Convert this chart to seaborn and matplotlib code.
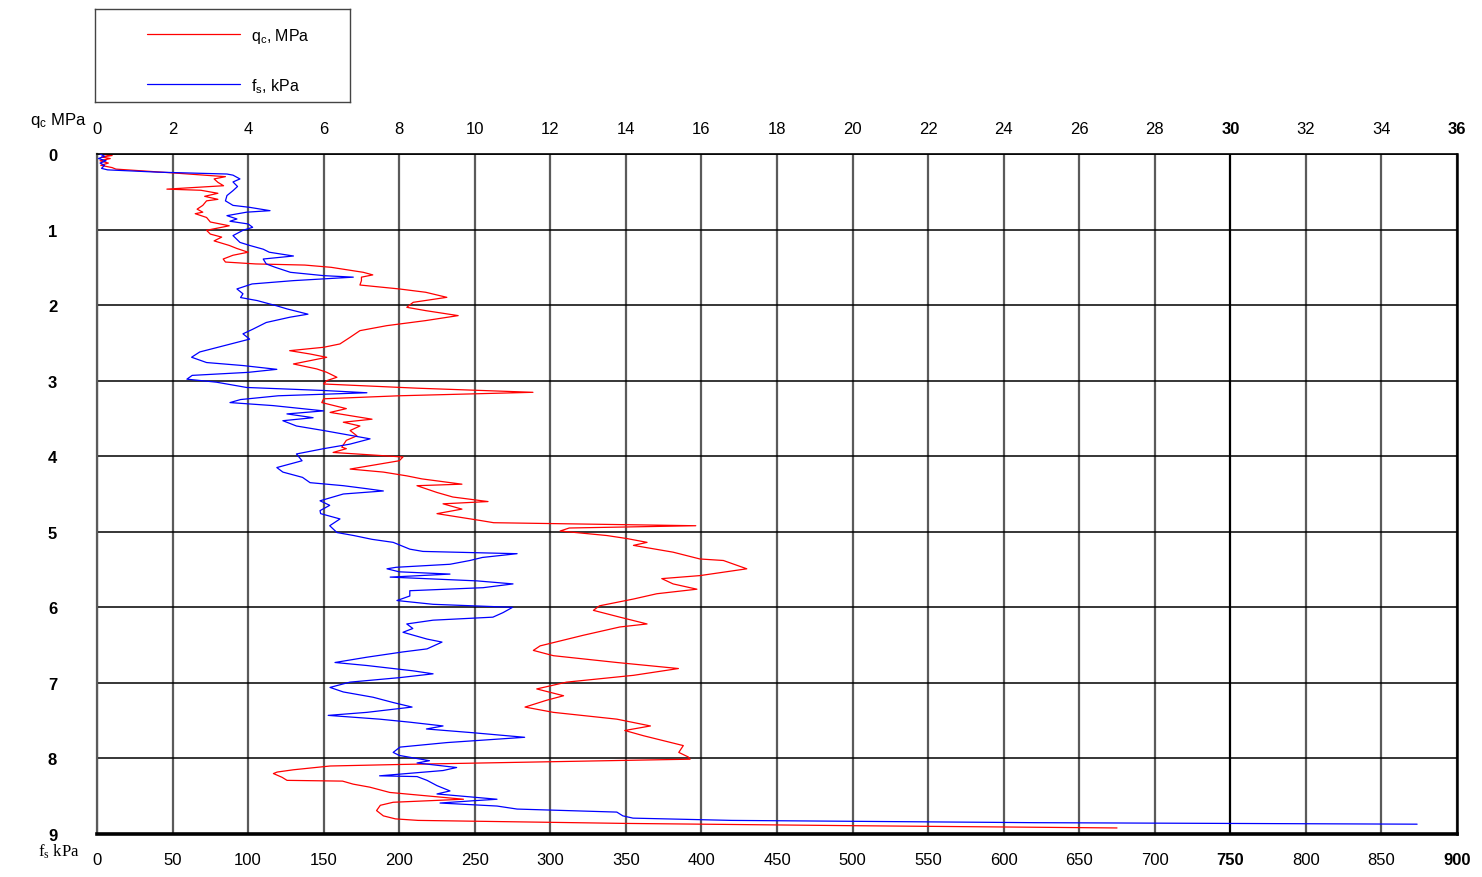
import matplotlib
matplotlib.use("Agg")
import matplotlib.pyplot as plt
import pandas as pd
import seaborn as sns
from matplotlib.lines import Line2D

# cone resistance qc (MPa) vs depth (m)
QC_DEPTH = [
    0.00, 0.02, 0.04, 0.06, 0.09, 0.12, 0.15, 0.18, 0.20, 0.25, 0.30, 0.33, 0.375, 0.42,
    0.465, 0.48, 0.52, 0.56, 0.60, 0.62, 0.68, 0.73, 0.77, 0.79, 0.84, 0.90, 0.95, 1.01,
    1.06, 1.10, 1.15, 1.21, 1.25, 1.30, 1.34, 1.39, 1.43, 1.455, 1.47, 1.50, 1.566, 1.60,
    1.63, 1.676, 1.734, 1.786, 1.83, 1.897, 1.963, 2.029, 2.073, 2.139, 2.205, 2.272, 2.338,
    2.426, 2.514, 2.558, 2.603, 2.647, 2.691, 2.779, 2.845, 2.889, 2.955, 3.00, 3.044, 3.10,
    3.154, 3.20, 3.24, 3.29, 3.37, 3.42, 3.51, 3.55, 3.60, 3.66, 3.73, 3.79, 3.88, 3.90,
    3.95, 4.01, 4.06, 4.12, 4.17, 4.21, 4.26, 4.30, 4.37, 4.39, 4.48, 4.54, 4.60, 4.63,
    4.70, 4.76, 4.85, 4.88, 4.92, 4.95, 4.99, 5.05, 5.09, 5.14, 5.18, 5.27, 5.36, 5.38,
    5.49, 5.58, 5.62, 5.69, 5.76, 5.82, 5.89, 5.98, 6.04, 6.13, 6.22, 6.26, 6.37, 6.51,
    6.57, 6.64, 6.73, 6.81, 6.90, 6.99, 7.08, 7.17, 7.23, 7.32, 7.39, 7.48, 7.57, 7.63,
    7.70, 7.83, 7.92, 7.98, 8.01, 8.08, 8.10, 8.15, 8.18, 8.20, 8.25, 8.29, 8.30, 8.34,
    8.38, 8.45, 8.49, 8.54, 8.58, 8.62, 8.69, 8.76, 8.80, 8.82, 8.86, 8.89, 8.92,
]
QC_MPA = [
    0.10, 0.40, 0.12, 0.35, 0.08, 0.30, 0.10, 0.40, 0.50, 2.00, 3.40, 3.10, 3.20, 3.35,
    1.85, 2.75, 3.20, 2.85, 3.20, 2.90, 2.80, 2.65, 2.80, 2.60, 2.90, 3.00, 3.50, 2.90,
    3.00, 3.30, 3.10, 3.50, 3.70, 4.00, 3.60, 3.34, 3.40, 4.20, 5.50, 6.20, 7.05, 7.30,
    7.00, 7.00, 6.96, 8.00, 8.70, 9.26, 8.37, 8.20, 8.70, 9.56, 8.70, 7.67, 6.96,
    6.70, 6.43, 6.00, 5.10, 5.64, 6.08, 5.20, 5.82, 6.08, 6.35, 6.08, 6.00, 8.50,
    11.54, 8.00, 6.00, 5.95, 6.60, 6.17, 7.28, 6.52, 6.96, 6.70, 6.88, 6.60, 6.48, 6.60,
    6.25, 8.10, 8.00, 7.30, 6.70, 7.58, 8.20, 8.60, 9.66, 8.47, 9.00, 9.42, 10.35, 9.16,
    9.66, 9.00, 10.14, 10.50, 15.85, 12.50, 12.26, 13.50, 14.03, 14.56, 14.20, 15.25, 15.96, 16.58,
    17.20, 15.96, 14.95, 15.25, 15.88, 14.82, 14.20, 13.30, 13.14, 13.84, 14.56, 13.84, 12.87, 11.73,
    11.55, 12.08, 13.76, 15.39, 14.20, 12.43, 11.64, 12.35, 11.90, 11.33, 12.08, 13.76, 14.65, 13.97,
    14.47, 15.52, 15.40, 15.65, 15.70, 8.00, 6.17, 5.20, 4.77, 4.67, 4.90, 5.03, 6.50, 6.78,
    7.22, 7.75, 8.63, 9.70, 7.84, 7.50, 7.40, 7.58, 7.90, 8.50, 14.00, 20.00, 27.00,
]

# sleeve friction fs (kPa) vs depth (m)
FS_DEPTH = [
    0.00, 0.03, 0.06, 0.09, 0.12, 0.15, 0.19, 0.21, 0.24, 0.265, 0.28, 0.33, 0.37, 0.43,
    0.485, 0.55, 0.62, 0.68, 0.706, 0.75, 0.77, 0.816, 0.86, 0.89, 0.926, 0.97, 1.01, 1.08,
    1.12, 1.17, 1.21, 1.26, 1.30, 1.35, 1.39, 1.455, 1.50, 1.566, 1.61, 1.63, 1.676, 1.72,
    1.786, 1.85, 1.90, 1.94, 2.01, 2.05, 2.12, 2.16, 2.23, 2.32, 2.38, 2.45, 2.54, 2.62,
    2.69, 2.76, 2.80, 2.85, 2.89, 2.93, 2.98, 3.02, 3.09, 3.13, 3.16, 3.20, 3.25, 3.29,
    3.33, 3.40, 3.44, 3.49, 3.53, 3.60, 3.66, 3.77, 3.84, 3.90, 3.97, 4.06, 4.15, 4.21,
    4.28, 4.35, 4.39, 4.43, 4.46, 4.50, 4.59, 4.65, 4.72, 4.76, 4.83, 4.92, 5.01, 5.05,
    5.10, 5.14, 5.23, 5.26, 5.29, 5.34, 5.38, 5.43, 5.47, 5.49, 5.53, 5.56, 5.60, 5.65,
    5.69, 5.74, 5.78, 5.85, 5.91, 5.96, 6.00, 6.07, 6.13, 6.17, 6.22, 6.28, 6.33, 6.42,
    6.46, 6.55, 6.59, 6.66, 6.73, 6.77, 6.84, 6.88, 6.93, 6.99, 7.06, 7.12, 7.19, 7.26,
    7.32, 7.39, 7.43, 7.48, 7.52, 7.57, 7.61, 7.66, 7.72, 7.79, 7.85, 7.92, 7.96, 8.03,
    8.06, 8.12, 8.16, 8.23, 8.24, 8.29, 8.36, 8.43, 8.47, 8.54, 8.56, 8.59, 8.63, 8.67,
    8.71, 8.76, 8.79, 8.82, 8.85, 8.87,
]
FS_KPA = [
    2, 5, 1, 6, 2, 5, 3, 7, 40, 86, 90, 94.6, 90, 93,
    90, 86, 85, 90, 101, 114.5, 99, 86, 92.6, 88, 100, 103, 96.6, 90,
    92, 94.6, 101, 110, 114, 130, 110, 112, 118, 128, 150, 169.6, 130, 102.6,
    92.6, 96.6, 95, 106, 119, 125.7, 139.6, 127.7, 112, 103, 96.6, 101, 83.5, 68,
    62.6, 72.5, 96.6, 119, 100, 63, 59.5, 79, 99, 150, 178.6, 120, 95, 88,
    116.5, 150, 125.7, 143, 123, 132, 150, 180.7, 167.4, 150, 132, 135.7, 119, 123,
    136, 141, 163, 178.6, 189.5, 163, 147.6, 154, 147.6, 148, 160.8, 154, 158.8, 170,
    182, 196, 207, 215.7, 278, 255, 246.8, 233.6, 198, 191.9, 200, 233.6, 194, 251.5,
    275.3, 255.5, 207, 207, 198.5, 222.4, 275, 268.7, 262, 222.4, 205, 209, 202.5, 218.4,
    228.3, 218.4, 202.5, 178.6, 157.5, 178.6, 209, 222.4, 200.5, 167.4, 154.2, 163, 182.7, 196,
    208.5, 178.6, 153, 187, 207, 229, 218, 249, 283, 231.6, 200.5, 196, 200, 220,
    211.8, 238, 229, 187, 211.8, 218.4, 225, 233.6, 225, 264.7, 249, 227, 264.7, 278,
    344, 348, 354.7, 420, 620, 873.6,
]

QC_TICKS = list(range(0, 37, 2))
FS_TICKS = list(range(0, 901, 50))
DEPTH_TICKS = list(range(0, 10))

RED = "#ff0000"
BLUE = "#0000ff"


def main() -> None:
    sns.set_style("white")
    plt.rcParams["font.family"] = ["Liberation Sans", "DejaVu Sans"]
    plt.rcParams["mathtext.default"] = "regular"
    plt.rcParams["text.color"] = "black"
    plt.rcParams["xtick.color"] = "black"
    plt.rcParams["ytick.color"] = "black"

    qc_df = pd.DataFrame({"depth": QC_DEPTH, "qc": QC_MPA})
    fs_df = pd.DataFrame({"depth": FS_DEPTH, "fs": FS_KPA})

    fig = plt.figure(figsize=(14.82, 8.78), dpi=100)
    ax = fig.add_axes([97 / 1482, 43 / 878, 1360 / 1482, 680 / 878])
    ax2 = ax.twiny()

    sns.lineplot(data=qc_df, x="qc", y="depth", sort=False, estimator=None, orient="y",
                 color=RED, linewidth=0.9, ax=ax)
    sns.lineplot(data=fs_df, x="fs", y="depth", sort=False, estimator=None, orient="y",
                 color=BLUE, linewidth=0.9, ax=ax2)

    # qc scale on top
    ax.set_xlim(0, 36)
    ax.set_xticks(QC_TICKS)
    ax.set_xticklabels([str(t) for t in QC_TICKS])
    ax.xaxis.tick_top()
    ax.tick_params(axis="x", length=0, pad=13, labelsize=12)
    for lbl in ax.get_xticklabels():
        if lbl.get_text() in ("30", "36"):
            lbl.set_fontweight("bold")

    # depth
    ax.set_ylim(9, 0)
    ax.set_yticks(DEPTH_TICKS)
    ax.set_yticklabels([str(t) for t in DEPTH_TICKS], fontweight="bold")
    ax.tick_params(axis="y", length=0, pad=32, labelsize=12)
    for lbl in ax.get_yticklabels():
        lbl.set_horizontalalignment("center")
    ax.set_xlabel("")
    ax.set_ylabel("")

    # fs scale on bottom
    ax2.set_xlim(0, 900)
    ax2.set_xticks(FS_TICKS)
    ax2.set_xticklabels([str(t) for t in FS_TICKS])
    ax2.xaxis.set_ticks_position("bottom")
    ax2.tick_params(axis="x", length=0, pad=13, labelsize=12)
    for lbl in ax2.get_xticklabels():
        if lbl.get_text() in ("750", "900"):
            lbl.set_fontweight("bold")
    ax2.set_xlabel("")
    ax2.set_ylabel("")

    ax.grid(axis="x", color="#5a5a5a", linewidth=1.6)
    ax.grid(axis="y", color="black", linewidth=1.1)
    ax.get_xgridlines()[QC_TICKS.index(30)].set_color("black")

    for name, sp in ax.spines.items():
        sp.set_visible(name != "bottom")
        sp.set_color("black")
    ax.spines["left"].set_color("#5a5a5a")
    ax.spines["left"].set_linewidth(1.6)
    ax.spines["right"].set_linewidth(1.8)
    ax.spines["top"].set_linewidth(1.2)
    for name, sp in ax2.spines.items():
        sp.set_visible(name == "bottom")
    ax2.spines["bottom"].set_color("black")
    ax2.spines["bottom"].set_linewidth(2.6)

    # axis captions
    fig.text(30 / 1482, 1 - 121 / 878, "q$_c$ MPa", fontsize=12, va="center", ha="left")
    fig.text(38 / 1482, 1 - 852 / 878, "f$_s$ kPa", fontsize=12, va="center", ha="left",
             family=["Liberation Serif", "DejaVu Serif"])

    # legend box
    leg_ax = fig.add_axes([95 / 1482, 1 - 103 / 878, 255 / 1482, 93 / 878])
    leg_ax.set_xticks([])
    leg_ax.set_yticks([])
    leg_ax.set_facecolor("white")
    for sp in leg_ax.spines.values():
        sp.set_color("#444444")
        sp.set_linewidth(1.0)
    handles = [Line2D([], [], color=RED, linewidth=0.9),
               Line2D([], [], color=BLUE, linewidth=0.9)]
    leg_ax.legend(handles, ["q$_c$, MPa", "f$_s$, kPa"], loc="center left",
                  bbox_to_anchor=(44 / 255, 0.45), frameon=False, fontsize=11.5,
                  handlelength=5.8, handletextpad=0.7, labelspacing=1.95, borderpad=0)

    fig.savefig("out.png", dpi=100)
    plt.close(fig)


if __name__ == "__main__":
    main()
